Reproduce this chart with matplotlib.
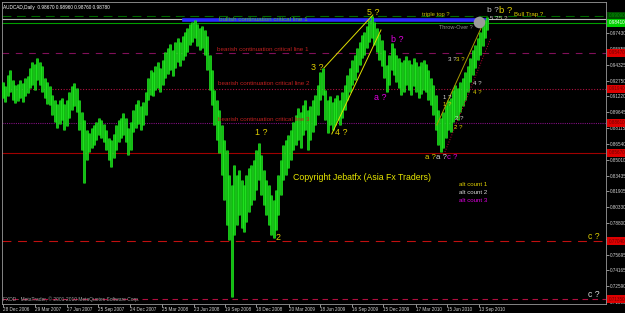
import matplotlib
matplotlib.use("Agg")
import matplotlib.pyplot as plt
import pandas as pd

plt.rcParams["font.family"] = ["Liberation Sans", "DejaVu Sans"]

# ── data: AUDCAD, one bar per week (high / low) ──
bar_high = [
    0.9262, 0.9223, 0.9331, 0.9380, 0.9282, 0.9233, 0.9243, 0.9282, 0.9253, 0.9302,
    0.9321, 0.9400, 0.9458, 0.9439, 0.9498, 0.9458, 0.9419, 0.9302, 0.9262, 0.9223,
    0.9135, 0.9086, 0.9047, 0.9086, 0.9106, 0.9047, 0.9086, 0.9164, 0.9223, 0.9253,
    0.9204, 0.9086, 0.8968, 0.8890, 0.8792, 0.8763, 0.8812, 0.8841, 0.8870, 0.8910,
    0.8890, 0.8851, 0.8792, 0.8714, 0.8694, 0.8753, 0.8841, 0.8890, 0.8910, 0.8959,
    0.8910, 0.8812, 0.8870, 0.8988, 0.9047, 0.9086, 0.9027, 0.9066, 0.9164, 0.9302,
    0.9380, 0.9360, 0.9419, 0.9458, 0.9400, 0.9478, 0.9556, 0.9596, 0.9635, 0.9576,
    0.9654, 0.9694, 0.9654, 0.9713, 0.9752, 0.9792, 0.9831, 0.9850, 0.9870, 0.9831,
    0.9792, 0.9811, 0.9772, 0.9713, 0.9527, 0.9380, 0.9184, 0.9086, 0.8988, 0.8841,
    0.8694, 0.8596, 0.8351, 0.8253, 0.8449, 0.8351, 0.8400, 0.8302, 0.8253, 0.8351,
    0.8420, 0.8449, 0.8498, 0.8596, 0.8665, 0.8547, 0.8400, 0.8302, 0.8253, 0.8155,
    0.8106, 0.8204, 0.8351, 0.8498, 0.8645, 0.8694, 0.8743, 0.8792, 0.8870, 0.8939,
    0.9008, 0.8968, 0.9037, 0.9086, 0.8988, 0.9027, 0.9086, 0.9135, 0.9233, 0.9360,
    0.9400, 0.9184, 0.9086, 0.9125, 0.9066, 0.9106, 0.9135, 0.9086, 0.9164, 0.9233,
    0.9331, 0.9400, 0.9478, 0.9527, 0.9596, 0.9654, 0.9723, 0.9752, 0.9811, 0.9870,
    0.9909, 0.9850, 0.9792, 0.9733, 0.9674, 0.9576, 0.9429, 0.9527, 0.9645, 0.9596,
    0.9527, 0.9498, 0.9458, 0.9478, 0.9517, 0.9478, 0.9439, 0.9498, 0.9458, 0.9419,
    0.9458, 0.9478, 0.9439, 0.9380, 0.9302, 0.9233, 0.9135, 0.8988, 0.8910, 0.8968,
    0.9037, 0.9086, 0.9106, 0.9184, 0.9233, 0.9204, 0.9262, 0.9302, 0.9360, 0.9419,
    0.9498, 0.9576, 0.9625, 0.9694, 0.9752, 0.9811, 0.9870, 0.9899,
]
bar_low = [
    0.9106, 0.9066, 0.9125, 0.9164, 0.9086, 0.9057, 0.9076, 0.9106, 0.9066, 0.9125,
    0.9155, 0.9204, 0.9233, 0.9184, 0.9282, 0.9233, 0.9164, 0.9106, 0.9047, 0.9037,
    0.8939, 0.8870, 0.8812, 0.8851, 0.8890, 0.8792, 0.8831, 0.8910, 0.8988, 0.9027,
    0.8968, 0.8792, 0.8596, 0.8273, 0.8498, 0.8576, 0.8616, 0.8645, 0.8694, 0.8743,
    0.8714, 0.8674, 0.8596, 0.8498, 0.8429, 0.8518, 0.8596, 0.8674, 0.8714, 0.8743,
    0.8674, 0.8547, 0.8596, 0.8772, 0.8812, 0.8851, 0.8792, 0.8841, 0.8939, 0.9086,
    0.9135, 0.9125, 0.9184, 0.9204, 0.9164, 0.9233, 0.9302, 0.9341, 0.9380, 0.9321,
    0.9400, 0.9458, 0.9419, 0.9478, 0.9517, 0.9556, 0.9625, 0.9654, 0.9694, 0.9615,
    0.9576, 0.9596, 0.9527, 0.9380, 0.9184, 0.9037, 0.8841, 0.8694, 0.8567, 0.8351,
    0.8106, 0.7861, 0.7714, 0.7155, 0.7763, 0.7861, 0.7959, 0.7832, 0.7792, 0.7890,
    0.7988, 0.8057, 0.8106, 0.8204, 0.8302, 0.8155, 0.8057, 0.7959, 0.7861, 0.7763,
    0.7734, 0.7812, 0.7959, 0.8155, 0.8302, 0.8351, 0.8420, 0.8498, 0.8596, 0.8645,
    0.8694, 0.8616, 0.8743, 0.8792, 0.8596, 0.8694, 0.8772, 0.8841, 0.8939, 0.9086,
    0.9135, 0.8890, 0.8763, 0.8841, 0.8792, 0.8841, 0.8890, 0.8841, 0.8910, 0.8988,
    0.9086, 0.9164, 0.9233, 0.9282, 0.9360, 0.9429, 0.9498, 0.9527, 0.9596, 0.9654,
    0.9694, 0.9625, 0.9556, 0.9478, 0.9419, 0.9302, 0.9164, 0.9233, 0.9380, 0.9331,
    0.9262, 0.9204, 0.9135, 0.9164, 0.9233, 0.9184, 0.9135, 0.9223, 0.9164, 0.9106,
    0.9145, 0.9184, 0.9164, 0.9086, 0.9037, 0.8939, 0.8792, 0.8645, 0.8576, 0.8616,
    0.8714, 0.8792, 0.8772, 0.8870, 0.8910, 0.8890, 0.8968, 0.9027, 0.9086, 0.9164,
    0.9262, 0.9331, 0.9400, 0.9478, 0.9527, 0.9615, 0.9694, 0.9772,
]

start_date = pd.Timestamp("2006-12-28")
date_ticks = ["2006-12-28", "2007-03-29", "2007-06-27", "2007-09-25", "2007-12-24",
              "2008-03-25", "2008-06-23", "2008-09-19", "2008-12-18", "2009-03-20",
              "2009-06-18", "2009-09-16", "2009-12-15", "2010-03-17", "2010-06-15",
              "2010-09-13"]
price_ticks = [0.97430, 0.95855, 0.94325, 0.92750, 0.91220, 0.89645, 0.88115, 0.86540,
               0.85010, 0.83435, 0.81905, 0.80330, 0.78800, 0.77225, 0.75695, 0.74165,
               0.72590, 0.71060]

# horizontal levels drawn on the chart
level_price = [0.9909, 0.9880, 0.9841, 0.9547, 0.9194, 0.8861, 0.8567, 0.7704, 0.7135]
level_color = ["#006a00", "#b8b8b8", "#00a000", "#80105a", "#b01040", "#801080",
               "#a00000", "#c01010", "#b01040"]
level_style = [(0, (8, 5)), "-", "-", (0, (6, 6)), (0, (1, 1.5)), (0, (1, 1)), "-",
               (0, (8, 6)), (0, (5, 4))]
level_box = [("#004d00", "#00a000"), None, ("#00d000", "#ffffff"), ("#dd0000", "#700000"),
             ("#dd0000", "#700000"), ("#dd0000", "#700000"), ("#dd0000", "#700000"),
             ("#dd0000", "#700000"), ("#dd0000", "#700000")]

# trend lines (week, price) pairs
trend_lines = [
    ((130.5, 0.9400), (150.4, 0.9919), "#e0e000", "-"),
    ((133.7, 0.8753), (153.7, 0.9772), "#e0e000", "-"),
    ((176.4, 0.8841), (195.9, 0.9870), "#a89a00", "-"),
    ((179.7, 0.8576), (198.4, 0.9694), "#c00030", ":"),
]

YEL = "#e0d000"
MAG = "#e000e0"
WHT = "#d8d8d8"
labels = [
    # text, week, price, color, size, ha
    ("5 ?", 150.4, 0.9939, YEL, 6.4, "center"),
    ("b ?", 160.2, 0.9674, MAG, 6.4, "center"),
    ("3 ?", 127.6, 0.9400, YEL, 6.4, "center"),
    ("a ?", 153.3, 0.9115, MAG, 6.4, "center"),
    ("1 ?", 104.9, 0.8763, YEL, 6.4, "center"),
    ("4 ?", 137.4, 0.8772, YEL, 6.4, "center"),
    ("2", 111.8, 0.7743, YEL, 6.4, "center"),
    ("a ?", 171.5, 0.8518, YEL, 5.6, "left"),
    ("a ?", 176.0, 0.8518, WHT, 5.6, "left"),
    ("c ?", 180.5, 0.8518, MAG, 5.6, "left"),
    ("1 ?", 180.5, 0.9110, WHT, 4.4, "center"),
    ("1 ?", 180.5, 0.9037, YEL, 4.4, "center"),
    ("2 ?", 185.4, 0.8900, WHT, 4.4, "center"),
    ("2 ?", 185.0, 0.8821, YEL, 4.4, "center"),
    ("4 ?", 192.7, 0.9243, WHT, 4.4, "center"),
    ("4 ?", 192.7, 0.9164, YEL, 4.4, "center"),
    ("3 ?", 180.9, 0.9483, WHT, 4.4, "left"),
    ("3 ?", 184.1, 0.9483, YEL, 4.4, "left"),
    ("5 ?", 198.0, 0.9880, WHT, 4.4, "left"),
    ("5 ?", 201.6, 0.9880, "#c8c8a0", 4.4, "left"),
    ("b ?", 199.2, 0.9963, "#c0c0c0", 6.0, "center"),
    ("b ?", 204.5, 0.9958, YEL, 6.8, "center"),
    ("Bull Trap ?", 207.7, 0.9924, YEL, 4.4, "left"),
    ("triple top ?", 176.0, 0.9924, "#c8c000", 4.2, "center"),
    ("Throw-Over ?", 184.1, 0.9792, "#909090", 4.0, "center"),
    ("c ?", 240.2, 0.7753, YEL, 6.2, "center"),
    ("c ?", 240.2, 0.7180, WHT, 6.2, "center"),
    ("alt count 1", 185.4, 0.8260, YEL, 4.4, "left"),
    ("alt count 2", 185.4, 0.8182, WHT, 4.4, "left"),
    ("alt count 3", 185.4, 0.8103, MAG, 4.4, "left"),
    ("bullish continuation critical line 1", 87.8, 0.9875, "#50c030", 4.5, "left"),
    ("bearish continuation critical line 1", 87.0, 0.9581, "#c02020", 4.5, "left"),
    ("bearish continuation critical line 2", 87.4, 0.9243, "#c02020", 4.5, "left"),
    ("bearish continuation critical line 3", 87.4, 0.8895, "#c02020", 4.5, "left"),
    ("Copyright Jebatfx (Asia Fx Traders)", 117.9, 0.8327, "#e8e800", 6.3, "left"),
]


def main():
    weeks = list(range(len(bar_high)))

    fig = plt.figure(figsize=(6.25, 3.13), dpi=100, facecolor="black")
    ax = fig.add_axes([2 / 625, 9 / 313, 604 / 625, 302 / 313], facecolor="black")

    # levels
    for p, c, ls, box in zip(level_price, level_color, level_style, level_box):
        ax.axhline(p, color=c, linestyle=ls, linewidth=0.8, zorder=1)
        if box:
            ax.text(1.004, p, f"{p:.5f}", transform=ax.get_yaxis_transform(),
                    fontsize=3.3, color=box[1], va="center", ha="left", zorder=6,
                    bbox=dict(boxstyle="square,pad=0.25", fc=box[0], ec="none"),
                    clip_on=False)

    # blue critical line
    ax.plot([73.6, 196.7], [0.9870, 0.9870], color="#2a2aff", linewidth=2.6, zorder=2)

    # price bars
    ax.vlines(weeks, bar_low, bar_high, color="#22e622", linewidth=1.9, zorder=3)
    ax.vlines(weeks, bar_low, bar_high, color="#00a000", linewidth=0.4, zorder=3)

    for (x0, y0), (x1, y1), c, ls in trend_lines:
        ax.plot([x0, x1], [y0, y1], color=c, linestyle=ls, linewidth=0.7, zorder=4)

    ax.scatter([193.5], [0.9850], s=70, color="#9a9a9a", zorder=5, linewidths=0)

    for txt, x, y, c, fs, ha in labels:
        ax.text(x, y, txt, color=c, fontsize=fs, ha=ha, va="center", zorder=7)

    ax.text(0.002, 0.99, "AUDCAD,Daily  0.98670 0.98960 0.98760 0.98780",
            transform=ax.transAxes, color="white", fontsize=3.4, va="top", ha="left")
    ax.text(0.002, 0.017, "FXDD - MetaTrader, \u00a9 2001-2010 MetaQuotes Software Corp.",
            transform=ax.transAxes, color="#a0a0a0", fontsize=3.5, va="center", ha="left")

    ax.set_xlim(-0.4, 245.2)
    ax.set_ylim(0.7087, 1.0046)

    tick_dates = pd.to_datetime(date_ticks)
    ax.set_xticks([(d - start_date).days / 7 for d in tick_dates])
    ax.set_xticklabels([d.strftime("%d %b %Y") for d in tick_dates], ha="left")
    ax.tick_params(axis="x", colors="#d0d0d0", labelsize=3.3, length=2, width=0.5, pad=0.5)

    ax.yaxis.tick_right()
    ax.set_yticks(price_ticks)
    ax.set_yticklabels([f"{v:.5f}" for v in price_ticks])
    ax.tick_params(axis="y", colors="#d0d0d0", labelsize=3.3, length=2, width=0.5, pad=1)

    for s in ax.spines.values():
        s.set_color("#9a9a9a")
        s.set_linewidth(0.6)

    fig.savefig("out.png", dpi=100, facecolor="black")
    plt.close(fig)


if __name__ == "__main__":
    main()
